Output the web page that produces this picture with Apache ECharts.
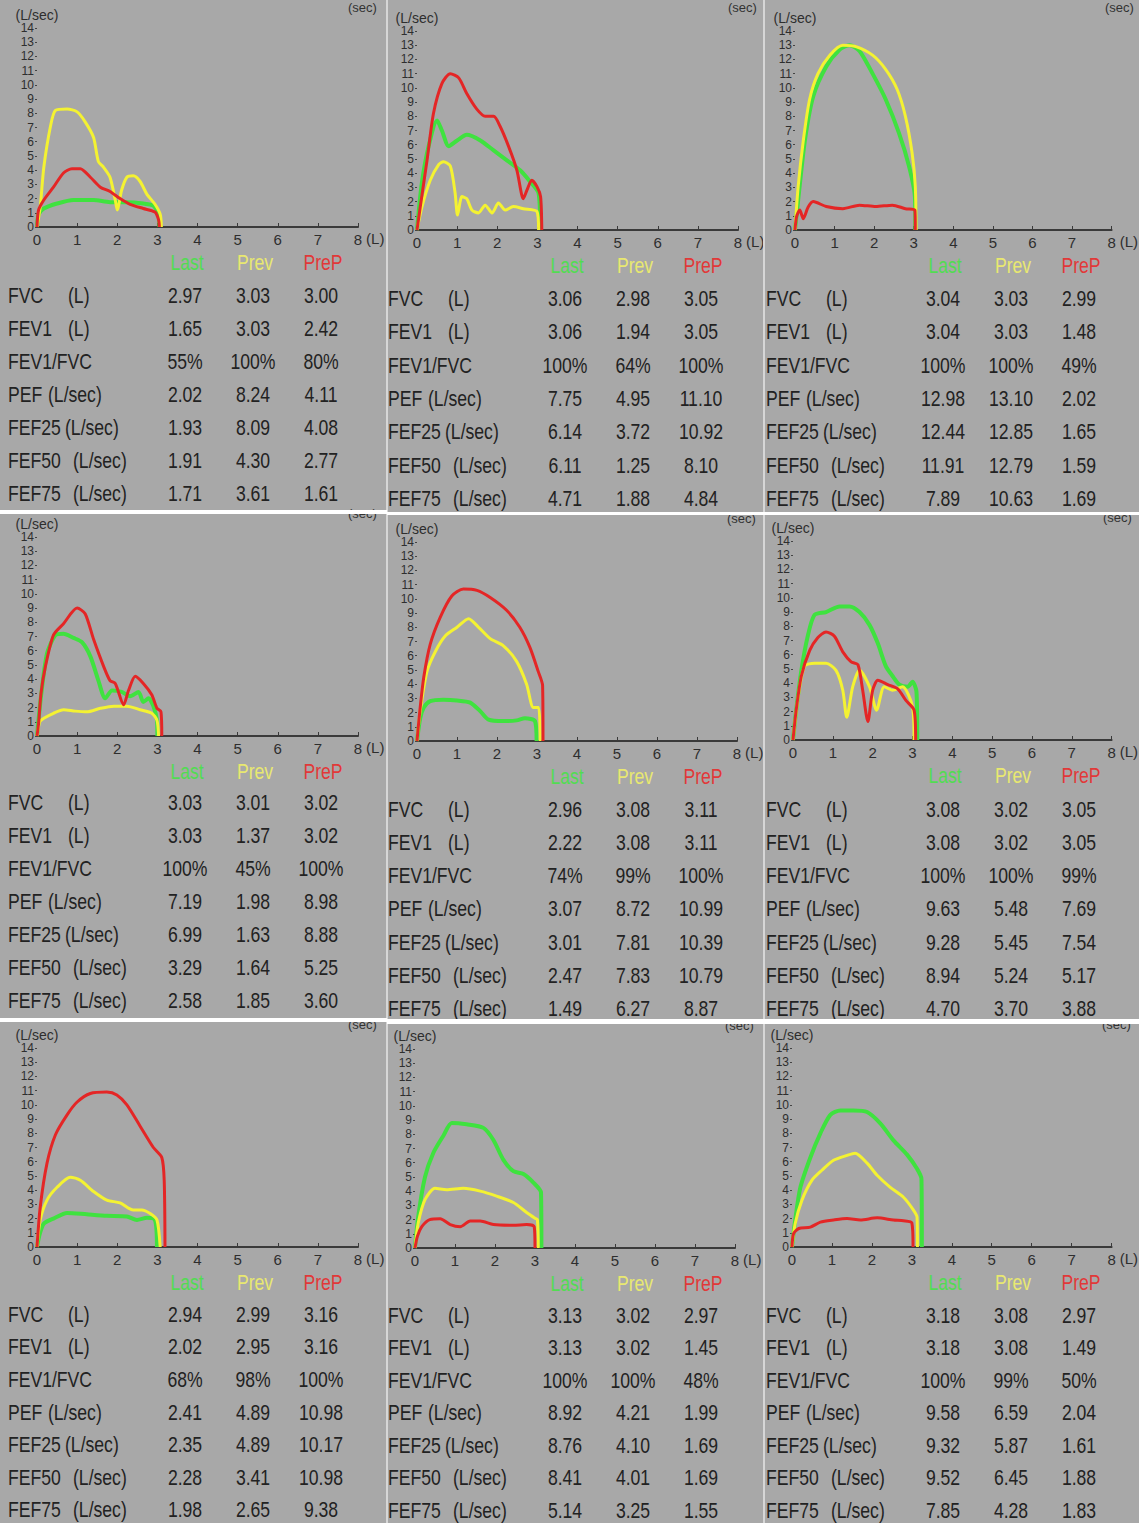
<!DOCTYPE html>
<html><head><meta charset="utf-8">
<script src="https://cdn.jsdelivr.net/npm/echarts@6/dist/echarts.min.js"></script>
<style>html,body{margin:0;padding:0;background:#a8a8a8}#c{width:1139px;height:1523px}</style>
</head><body><div id="c"></div><script>
// ---------- axis ticks ----------
const volumeTicks = [0,1,2,3,4,5,6,7,8];
const flowTicks = [0,1,2,3,4,5,6,7,8,9,10,11,12,13,14];
// ---------- table labels ----------
const seriesNames = ['Last','Prev','PreP'];
const rowLabels = ['FVC','FEV1','FEV1/FVC','PEF','FEF25','FEF50','FEF75'];
const rowUnits = ['(L)','(L)','','(L/sec)','(L/sec)','(L/sec)','(L/sec)'];

// ---------- flow-volume curves: [volume L, flow L/sec] ----------
const flowLast1 = [[0,0],[0.04,0.9],[0.17,1.3],[0.5,1.65],[0.91,1.9],[1.41,1.9],[1.82,1.75],[2.24,1.75],[2.65,1.65],[2.9,1.5],[3.03,0.9],[3.05,0]];
const flowPrev1 = [[0,0],[0.08,1.4],[0.17,4.2],[0.33,7.0],[0.46,8.2],[0.75,8.3],[1.0,8.1],[1.2,7.4],[1.41,6.3],[1.53,4.6],[1.66,4.2],[1.82,3.5],[1.95,1.9],[2.0,1.2],[2.11,2.6],[2.24,3.5],[2.4,3.6],[2.57,3.2],[2.74,2.3],[2.94,1.6],[3.07,0.9],[3.1,0]];
const flowPreP1 = [[0,0],[0.04,1.2],[0.17,1.9],[0.41,2.8],[0.66,3.8],[0.87,4.1],[1.08,4.1],[1.33,3.5],[1.58,2.8],[1.82,2.5],[2.07,2.0],[2.32,1.6],[2.65,1.3],[2.94,1.05],[3.03,0.5],[3.05,0]];

const flowLast2 = [[0,0],[0.12,3.3],[0.29,5.9],[0.5,7.7],[0.62,7.0],[0.79,5.9],[1.0,6.3],[1.24,6.7],[1.58,6.3],[1.91,5.6],[2.24,4.9],[2.57,4.2],[2.82,3.4],[3.03,2.6],[3.07,0]];
const flowPrev2 = [[0,0],[0.12,1.6],[0.33,3.5],[0.54,4.6],[0.66,4.8],[0.83,4.5],[0.95,2.6],[1.01,1.05],[1.12,2.35],[1.24,2.2],[1.37,1.4],[1.53,1.2],[1.7,1.75],[1.87,1.2],[2.03,1.9],[2.2,1.4],[2.4,1.65],[2.65,1.5],[2.99,1.3],[3.03,0]];
const flowPreP2 = [[0,0],[0.08,1.6],[0.25,4.9],[0.41,8.2],[0.62,10.3],[0.83,11.0],[1.04,10.7],[1.24,9.6],[1.49,8.5],[1.7,8.0],[1.91,8.0],[2.07,7.3],[2.28,5.9],[2.49,4.2],[2.65,2.2],[2.74,2.8],[2.86,3.5],[2.99,3.05],[3.08,2.35],[3.11,0]];

const flowLast3 = [[0,0],[0.08,2.1],[0.25,6.3],[0.46,9.4],[0.79,11.5],[1.13,12.7],[1.38,13.0],[1.63,12.6],[1.96,11.0],[2.29,9.2],[2.63,6.8],[2.88,4.5],[3.03,2.35],[3.04,0]];
const flowPrev3 = [[0,0],[0.08,3.05],[0.21,6.3],[0.37,9.2],[0.58,11.0],[0.88,12.3],[1.21,13.0],[1.54,12.9],[1.96,12.3],[2.29,11.3],[2.58,9.9],[2.79,8.0],[2.96,5.4],[3.04,3.05],[3.06,0]];
const flowPreP3 = [[0,0],[0.04,0.94],[0.12,1.4],[0.21,0.8],[0.33,1.6],[0.46,2.0],[0.79,1.65],[1.21,1.5],[1.63,1.75],[2.04,1.65],[2.46,1.75],[2.79,1.5],[3.03,1.4],[3.04,0]];

const flowLast4 = [[0,0],[0.1,2.8],[0.25,5.8],[0.46,7.1],[0.66,7.2],[0.91,6.9],[1.12,6.6],[1.33,5.6],[1.53,3.9],[1.7,2.65],[1.87,3.2],[2.11,3.1],[2.32,2.8],[2.53,3.1],[2.65,2.4],[2.78,2.65],[2.9,2.1],[2.99,1.1],[3.0,0]];
const flowPrev4 = [[0,0],[0.07,1.0],[0.17,1.25],[0.41,1.6],[0.66,1.85],[0.95,1.75],[1.24,1.7],[1.58,1.95],[1.91,2.1],[2.24,2.1],[2.57,1.85],[2.86,1.6],[2.99,1.1],[3.03,0]];
const flowPreP4 = [[0,0],[0.04,0.9],[0.1,3.0],[0.21,4.9],[0.41,7.1],[0.66,7.9],[1.0,9.0],[1.2,8.6],[1.41,6.8],[1.66,4.9],[1.82,3.9],[1.95,3.7],[2.16,2.2],[2.28,3.2],[2.45,4.2],[2.65,3.7],[2.86,2.9],[2.99,1.95],[3.09,1.7],[3.11,0]];

const flowLast5 = [[0,0],[0.08,1.6],[0.17,2.35],[0.33,2.8],[0.66,2.9],[1.0,2.85],[1.33,2.7],[1.58,2.1],[1.79,1.5],[2.16,1.4],[2.49,1.45],[2.7,1.6],[2.95,1.4],[2.99,0]];
const flowPrev5 = [[0,0],[0.08,2.1],[0.25,4.9],[0.46,6.3],[0.71,7.4],[1.0,8.0],[1.29,8.6],[1.54,8.0],[1.83,7.2],[2.16,6.7],[2.49,5.6],[2.74,4.0],[2.91,2.35],[3.04,2.35],[3.08,0]];
const flowPreP5 = [[0,0],[0.07,2.1],[0.17,4.5],[0.33,6.8],[0.58,8.7],[0.87,10.2],[1.16,10.7],[1.5,10.6],[1.83,10.1],[2.24,9.2],[2.57,8.0],[2.82,6.6],[3.03,4.9],[3.14,3.9],[3.15,0]];

const flowLast6 = [[0,0],[0.08,2.1],[0.21,4.9],[0.37,7.3],[0.54,8.8],[0.83,9.0],[1.17,9.4],[1.42,9.4],[1.67,9.0],[1.92,8.1],[2.13,6.8],[2.33,5.2],[2.5,4.5],[2.67,3.9],[2.88,3.75],[3.0,4.1],[3.1,3.4],[3.12,0]];
const flowPrev6 = [[0,0],[0.13,3.05],[0.29,5.2],[0.54,5.4],[0.83,5.4],[1.08,4.9],[1.25,3.5],[1.35,1.6],[1.5,3.75],[1.67,4.9],[1.92,3.75],[2.1,2.1],[2.29,3.75],[2.5,3.5],[2.75,3.75],[3.0,2.35],[3.04,0]];
const flowPreP6 = [[0,0],[0.08,2.1],[0.21,4.5],[0.42,6.3],[0.62,7.2],[0.83,7.6],[1.04,7.3],[1.25,6.2],[1.46,5.5],[1.63,5.3],[1.75,3.5],[1.88,1.3],[2.0,3.5],[2.13,4.2],[2.38,3.9],[2.63,3.6],[2.83,2.8],[3.04,2.1],[3.08,0]];

const flowLast7 = [[0,0],[0.07,0.94],[0.17,1.65],[0.41,2.0],[0.75,2.4],[1.24,2.3],[1.74,2.2],[2.24,2.15],[2.49,1.9],[2.74,2.05],[2.94,1.9],[2.99,0]];
const flowPrev7 = [[0,0],[0.08,1.9],[0.25,3.3],[0.5,4.2],[0.83,4.9],[1.08,4.7],[1.41,3.9],[1.74,3.3],[2.07,3.1],[2.4,2.6],[2.61,2.6],[2.82,2.35],[2.99,1.9],[3.07,0]];
const flowPreP7 = [[0,0],[0.08,2.8],[0.25,5.9],[0.46,7.9],[0.75,9.3],[1.0,10.2],[1.33,10.8],[1.74,10.9],[1.99,10.7],[2.24,10.0],[2.57,8.5],[2.9,7.0],[3.11,6.3],[3.17,4.7],[3.19,0]];

const flowLast8 = [[0,0],[0.08,2.2],[0.25,5.0],[0.46,6.7],[0.71,7.9],[0.92,8.8],[1.29,8.7],[1.71,8.45],[1.96,7.6],[2.21,6.2],[2.46,5.4],[2.71,5.2],[2.96,4.6],[3.15,3.9],[3.16,0]];
const flowPrev8 = [[0,0],[0.08,1.75],[0.25,3.4],[0.5,4.2],[0.79,4.1],[1.21,4.2],[1.63,4.0],[2.04,3.65],[2.46,3.2],[2.79,2.5],[3.0,2.1],[3.06,2.0],[3.08,0]];
const flowPreP8 = [[0,0],[0.06,0.82],[0.17,1.5],[0.37,2.0],[0.63,2.05],[0.88,1.65],[1.13,1.5],[1.38,1.9],[1.63,1.9],[1.96,1.65],[2.46,1.6],[2.79,1.65],[2.98,1.5],[3.0,0]];

const flowLast9 = [[0,0],[0.08,1.9],[0.21,4.2],[0.46,6.3],[0.71,8.0],[0.96,9.3],[1.21,9.6],[1.54,9.6],[1.88,9.5],[2.21,8.7],[2.54,7.5],[2.88,6.5],[3.13,5.5],[3.24,4.8],[3.25,0]];
const flowPrev9 = [[0,0],[0.08,1.65],[0.25,3.3],[0.5,4.7],[0.75,5.4],[1.04,6.1],[1.38,6.45],[1.58,6.6],[1.88,5.9],[2.13,5.05],[2.46,4.2],[2.79,3.5],[3.04,2.6],[3.13,2.1],[3.14,0]];
const flowPreP9 = [[0,0],[0.04,0.94],[0.17,1.3],[0.46,1.4],[0.71,1.75],[1.04,1.9],[1.38,2.0],[1.71,1.9],[2.13,2.05],[2.54,1.9],[2.79,1.85],[3.0,1.7],[3.03,0]];

// ---------- table values (FVC, FEV1, FEV1/FVC, PEF, FEF25, FEF50, FEF75) ----------
const tabLast1 = ['2.97','1.65','55%','2.02','1.93','1.91','1.71'];
const tabPrev1 = ['3.03','3.03','100%','8.24','8.09','4.30','3.61'];
const tabPreP1 = ['3.00','2.42','80%','4.11','4.08','2.77','1.61'];
const tabLast2 = ['3.06','3.06','100%','7.75','6.14','6.11','4.71'];
const tabPrev2 = ['2.98','1.94','64%','4.95','3.72','1.25','1.88'];
const tabPreP2 = ['3.05','3.05','100%','11.10','10.92','8.10','4.84'];
const tabLast3 = ['3.04','3.04','100%','12.98','12.44','11.91','7.89'];
const tabPrev3 = ['3.03','3.03','100%','13.10','12.85','12.79','10.63'];
const tabPreP3 = ['2.99','1.48','49%','2.02','1.65','1.59','1.69'];
const tabLast4 = ['3.03','3.03','100%','7.19','6.99','3.29','2.58'];
const tabPrev4 = ['3.01','1.37','45%','1.98','1.63','1.64','1.85'];
const tabPreP4 = ['3.02','3.02','100%','8.98','8.88','5.25','3.60'];
const tabLast5 = ['2.96','2.22','74%','3.07','3.01','2.47','1.49'];
const tabPrev5 = ['3.08','3.08','99%','8.72','7.81','7.83','6.27'];
const tabPreP5 = ['3.11','3.11','100%','10.99','10.39','10.79','8.87'];
const tabLast6 = ['3.08','3.08','100%','9.63','9.28','8.94','4.70'];
const tabPrev6 = ['3.02','3.02','100%','5.48','5.45','5.24','3.70'];
const tabPreP6 = ['3.05','3.05','99%','7.69','7.54','5.17','3.88'];
const tabLast7 = ['2.94','2.02','68%','2.41','2.35','2.28','1.98'];
const tabPrev7 = ['2.99','2.95','98%','4.89','4.89','3.41','2.65'];
const tabPreP7 = ['3.16','3.16','100%','10.98','10.17','10.98','9.38'];
const tabLast8 = ['3.13','3.13','100%','8.92','8.76','8.41','5.14'];
const tabPrev8 = ['3.02','3.02','100%','4.21','4.10','4.01','3.25'];
const tabPreP8 = ['2.97','1.45','48%','1.99','1.69','1.69','1.55'];
const tabLast9 = ['3.18','3.18','100%','9.58','9.32','9.52','7.85'];
const tabPrev9 = ['3.08','3.08','99%','6.59','5.87','6.45','4.28'];
const tabPreP9 = ['2.97','1.49','50%','2.04','1.61','1.88','1.83'];

// ---------- assembly ----------
const curves = [
  [flowLast1,flowPrev1,flowPreP1],[flowLast2,flowPrev2,flowPreP2],[flowLast3,flowPrev3,flowPreP3],
  [flowLast4,flowPrev4,flowPreP4],[flowLast5,flowPrev5,flowPreP5],[flowLast6,flowPrev6,flowPreP6],
  [flowLast7,flowPrev7,flowPreP7],[flowLast8,flowPrev8,flowPreP8],[flowLast9,flowPrev9,flowPreP9]];
const tables = [
  [tabLast1,tabPrev1,tabPreP1],[tabLast2,tabPrev2,tabPreP2],[tabLast3,tabPrev3,tabPreP3],
  [tabLast4,tabPrev4,tabPreP4],[tabLast5,tabPrev5,tabPreP5],[tabLast6,tabPrev6,tabPreP6],
  [tabLast7,tabPrev7,tabPreP7],[tabLast8,tabPrev8,tabPreP8],[tabLast9,tabPrev9,tabPreP9]];

// layout (pixel positions of each panel's origin and x=8 end; table left, row start & step)
const layout = [
  {x0:37,y0:227,x8:358,lx:8,r0:68,rs:33.1},{x0:417,y0:230,x8:738,lx:388,r0:68,rs:33.4},{x0:795,y0:230,x8:1115,lx:766,r0:68,rs:33.4},
  {x0:37,y0:736,x8:358,lx:8,r0:66,rs:33},{x0:417,y0:741,x8:737,lx:388,r0:68,rs:33.2},{x0:793,y0:740,x8:1113,lx:766,r0:69,rs:33.2},
  {x0:37,y0:1247,x8:358,lx:8,r0:67,rs:32.6},{x0:415,y0:1248,x8:735,lx:388,r0:67,rs:32.5},{x0:792,y0:1247,x8:1112,lx:766,r0:68,rs:32.5}];
const plotH = 199;
const FONT = '"Liberation Sans",Arial,sans-serif';
const SQUEEZE = 0.8;
const lineColors = ['#3fe23f','#f4f232','#e42626'];
const lineWidths = [4,3,3];
const headColors = ['#52dc52','#e8e870','#e23838'];
const unitOffsets = [60,60,0,40,57,65,65];
const colOffsets = [177,245,313];

function txt(text, x, y, size, fill, align){
  return {type:'text', x:x, y:y, scaleX:SQUEEZE, silent:true,
    style:{text:text, x:0, y:0, fontSize:size, fontFamily:FONT, fill:fill, align:align, verticalAlign:'middle'}};
}

const grid=[], xAxis=[], yAxis=[], series=[], graphic=[];
layout.forEach((p,i)=>{
  grid.push({left:p.x0, top:p.y0-plotH, width:p.x8-p.x0, height:plotH, containLabel:false});
  xAxis.push({type:'value', gridIndex:i, min:volumeTicks[0], max:volumeTicks[volumeTicks.length-1], interval:volumeTicks[1]-volumeTicks[0],
    name:'(L)', nameLocation:'end', nameGap:4,
    nameTextStyle:{fontSize:15, color:'#2e2e2e', fontFamily:FONT, verticalAlign:'top', padding:[4,0,0,0]},
    axisLine:{show:true, lineStyle:{color:'#3a3a3a', width:2}},
    axisTick:{show:true, length:4, inside:true, lineStyle:{color:'#3a3a3a'}},
    axisLabel:{fontSize:15, color:'#2e2e2e', fontFamily:FONT, margin:5},
    splitLine:{show:false}});
  yAxis.push({type:'value', gridIndex:i, min:flowTicks[0], max:flowTicks[flowTicks.length-1], interval:flowTicks[1]-flowTicks[0],
    name:'(L/sec)', nameLocation:'end', nameGap:6,
    nameTextStyle:{fontSize:14, color:'#2e2e2e', fontFamily:FONT},
    axisLine:{show:false},
    axisTick:{show:true, length:2, lineStyle:{color:'#444'}},
    axisLabel:{fontSize:12, color:'#2e2e2e', fontFamily:FONT, margin:3},
    splitLine:{show:false}});
  curves[i].forEach((d,k)=>{
    series.push({type:'line', name:seriesNames[k], xAxisIndex:i, yAxisIndex:i, data:d, showSymbol:false,
      smooth:0.25, lineStyle:{color:lineColors[k], width:lineWidths[k]}, itemStyle:{color:lineColors[k]}, z:2+k});
  });
  // (sec) label of the hidden time axis at the panel's top-right
  const secTop = i < 3 ? 1 : p.y0-plotH-30;
  graphic.push({type:'text', silent:true, z:1, style:{text:'(sec)', x:p.x8-10, y:secTop, fontSize:13, fill:'#333', fontFamily:FONT}});
  // table header
  const hy = p.y0+35;
  seriesNames.forEach((n,k)=>graphic.push(txt(n, p.lx+colOffsets[k]+2, hy, 22, headColors[k], 'center')));
  rowLabels.forEach((lab,r)=>{
    const ry = p.y0+p.r0+r*p.rs;
    graphic.push(txt(lab, p.lx, ry, 22, '#222', 'left'));
    if (rowUnits[r]) graphic.push(txt(rowUnits[r], p.lx+unitOffsets[r], ry, 22, '#222', 'left'));
    tables[i].forEach((col,k)=>graphic.push(txt(col[r], p.lx+colOffsets[k], ry, 22, '#222', 'center')));
  });
});
// separators
[
  {x:0,y:510,width:387,height:4},{x:387,y:512,width:752,height:3},
  {x:0,y:1018,width:387,height:4},{x:387,y:1019,width:752,height:5},
].forEach(s=>graphic.push({type:'rect', silent:true, shape:s, style:{fill:'#ffffff'}, z:10}));
[
  {x:386,y:0,width:2,height:1523},{x:763,y:0,width:2,height:1523}
].forEach(s=>graphic.push({type:'rect', silent:true, shape:s, style:{fill:'#d6d6d6'}, z:9}));

const chart = echarts.init(document.getElementById('c'), null, {renderer:'svg', width:1139, height:1523});
chart.setOption({backgroundColor:'#a8a8a8', animation:false, grid, xAxis, yAxis, series, graphic});
</script></body></html>
